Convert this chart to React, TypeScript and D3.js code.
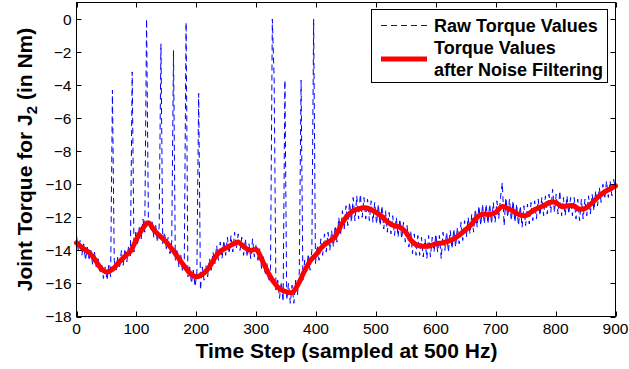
import React from 'react';
import * as d3 from 'd3';

const xTicks = [0, 100, 200, 300, 400, 500, 600, 700, 800, 900];
const yTicks = [-18, -16, -14, -12, -10, -8, -6, -4, -2, 0];

const rawStep = 3;
const rawValues = [
  -13.1, -14.0, -13.4, -14.3, -13.6, -14.6, -13.8, -14.5, -14.0, -14.9,
  -14.1, -15.0, -14.5, -15.4, -14.8, -15.7, -15.0, -15.8, -14.9, -15.6,
  -4.3, -14.6, -15.2, -14.4, -15.1, -14.0, -14.9, -13.9, -14.7, -13.7,
  -14.4, -3.2, -14.1, -12.9, -13.7, -12.5, -13.3, -12.1, -12.9, 0.0,
  -12.0, -12.8, -12.2, -13.2, -12.4, -13.5, -12.6, -1.5, -13.6, -12.9,
  -13.9, -13.2, -14.2, -13.5, -1.9, -14.6, -13.9, -15.0, -14.2, -15.3,
  -14.6, -0.2, -15.6, -15.0, -16.0, -15.2, -16.2, -15.3, -4.5, -16.4,
  -15.0, -15.8, -14.9, -15.6, -14.5, -15.2, -14.1, -14.8, -13.7, -14.6,
  -13.5, -14.5, -13.4, -14.3, -13.2, -14.2, -13.1, -14.1, -12.9, -13.9,
  -13.0, -14.0, -13.2, -14.3, -13.3, -14.4, -13.6, -14.5, -13.3, -14.4,
  -13.6, -14.6, -13.9, -15.1, -14.3, -15.5, -14.8, -15.9, -15.1, 0.0,
  -3.6, -16.4, -15.8, -16.9, -15.9, -17.1, -3.7, -17.0, -16.0, -17.2,
  -16.1, -17.2, -15.8, -16.7, -15.3, -3.7, -15.8, -14.6, -15.4, -14.2,
  -15.2, -14.0, 0.0, -14.8, -13.7, -14.6, -13.3, -14.3, -13.0, -14.1,
  -12.9, -14.0, -12.8, -13.8, -12.5, -13.5, -12.0, -13.1, -11.6, -12.7,
  -11.3, -12.5, -11.1, -12.3, -10.8, -12.2, -10.7, -12.1, -10.6, -12.0,
  -10.8, -12.1, -10.9, -12.2, -11.0, -12.3, -11.1, -12.4, -11.2, -12.5,
  -11.3, -12.7, -11.6, -12.9, -11.7, -13.0, -11.9, -13.1, -12.0, -13.2,
  -12.1, -13.3, -12.3, -13.5, -12.5, -13.8, -12.8, -14.2, -13.0, -14.3,
  -13.1, -14.3, -13.2, -14.4, -13.3, -14.5, -13.1, -14.4, -13.2, -14.1,
  -13.0, -14.1, -13.1, -14.5, -12.9, -14.0, -12.9, -14.1, -12.8, -13.9,
  -12.7, -13.8, -12.6, -13.6, -12.3, -13.4, -12.2, -13.2, -12.0, -13.0,
  -11.8, -12.9, -11.5, -12.6, -11.3, -12.5, -11.2, -12.4, -11.2, -12.4,
  -11.2, -12.4, -11.1, -12.3, -11.0, -12.1, -10.8, -9.9, -12.5, -10.8,
  -12.0, -10.9, -12.2, -11.0, -12.3, -11.2, -12.5, -11.3, -12.6, -11.3,
  -12.5, -11.2, -12.4, -11.1, -12.2, -11.0, -12.1, -10.9, -11.9, -10.8,
  -11.9, -10.7, -11.8, -10.6, -11.7, -10.3, -11.7, -10.6, -11.8, -10.4,
  -11.9, -10.8, -11.9, -10.7, -11.8, -10.8, -11.9, -10.8, -12.1, -10.9,
  -12.2, -10.9, -12.1, -10.9, -11.9, -10.7, -11.8, -10.6, -11.6, -10.4,
  -11.3, -10.2, -11.1, -10.0, -10.9, -9.8, -10.8, -9.8, -10.7, -9.7,
  -10.3,
];

const filteredStep = 10;
const filteredValues = [
  -13.55, -13.85, -14.1, -14.5, -15.05, -15.3, -15.15, -14.75, -14.4, -14.05,
  -13.35, -12.7, -12.33, -12.8, -13.15, -13.5, -13.95, -14.45, -14.95, -15.4,
  -15.6, -15.45, -15.1, -14.5, -14.05, -13.85, -13.65, -13.5, -13.8, -14.0,
  -13.95, -14.6, -15.35, -15.95, -16.35, -16.5, -16.55, -16.05, -15.3, -14.65,
  -14.25, -13.8, -13.5, -13.25, -12.6, -12.0, -11.65, -11.5, -11.42, -11.5,
  -11.7, -11.95, -12.3, -12.5, -12.6, -12.9, -13.45, -13.7, -13.75, -13.72,
  -13.6, -13.55, -13.45, -13.3, -13.05, -12.75, -12.4, -11.95, -11.8, -11.83,
  -11.7, -11.35, -11.45, -11.65, -11.85, -11.9, -11.65, -11.45, -11.3, -11.1,
  -11.1, -11.35, -11.3, -11.3, -11.5, -11.45, -11.15, -10.8, -10.5, -10.3,
  -10.1,
];

const rawLabel = 'Raw Torque Values';
const filteredLabelLines = ['Torque Values', 'after Noise Filtering'];
const xLabel = 'Time Step (sampled at 500 Hz)';

const FONT = '"Liberation Sans", Arial, Helvetica, sans-serif';

export default function App() {
  const W = 629;
  const H = 369;
  const x = d3.scaleLinear().domain([0, 900]).range([76.5, 615.5]);
  const y = d3.scaleLinear().domain([-18, 1]).range([316.5, 2.5]);

  const rawPts: [number, number][] = rawValues.map((v, i) => [i * rawStep, v]);
  const filtPts: [number, number][] = filteredValues.map((v, i) => [i * filteredStep, v]);

  const rawLine = d3.line<[number, number]>().x(d => x(d[0])).y(d => y(d[1]));
  const filtLine = d3
    .line<[number, number]>()
    .x(d => x(d[0]))
    .y(d => y(d[1]))
    .curve(d3.curveCatmullRom.alpha(0.5));

  const [x0, x1] = x.range();
  const [yb, yt] = y.range();
  const tickLen = 5;

  return (
    <svg width={W} height={H} style={{ position: 'absolute', left: 0, top: 0, background: '#fff' }}>
      <rect x={0} y={0} width={W} height={H} fill="#fff" />
      <path d={rawLine(rawPts) || ''} fill="none" stroke="#0000ff" strokeWidth={1} strokeDasharray="6,4" />
      <path d={filtLine(filtPts) || ''} fill="none" stroke="#ff0000" strokeWidth={5} strokeLinejoin="round" strokeLinecap="round" />

      <rect x={x0} y={yt} width={x1 - x0} height={yb - yt} fill="none" stroke="#000" strokeWidth={1} />

      {xTicks.map(t => (
        <g key={'x' + t}>
          <line x1={Math.round(x(t)) + 0.5} x2={Math.round(x(t)) + 0.5} y1={yb} y2={yb - tickLen} stroke="#000" />
          <line x1={Math.round(x(t)) + 0.5} x2={Math.round(x(t)) + 0.5} y1={yt} y2={yt + tickLen} stroke="#000" />
          <text x={x(t)} y={yb + 17.5} textAnchor="middle" fontFamily={FONT} fontSize={15.5} fill="#000">
            {t}
          </text>
        </g>
      ))}
      {yTicks.map(t => (
        <g key={'y' + t}>
          <line x1={x0} x2={x0 + tickLen} y1={Math.round(y(t)) + 0.5} y2={Math.round(y(t)) + 0.5} stroke="#000" />
          <line x1={x1} x2={x1 - tickLen} y1={Math.round(y(t)) + 0.5} y2={Math.round(y(t)) + 0.5} stroke="#000" />
          <text x={x0 - 5} y={y(t)} dy="0.36em" textAnchor="end" fontFamily={FONT} fontSize={15.5} fill="#000">
            {t < 0 ? '\u2212' + Math.abs(t) : String(t)}
          </text>
        </g>
      ))}

      <text x={346.5} y={358} textAnchor="middle" fontFamily={FONT} fontWeight="bold" fontSize={21} fill="#000">
        {xLabel}
      </text>
      <text
        transform={`translate(32,${(yb + yt) / 2}) rotate(-90)`}
        textAnchor="middle"
        fontFamily={FONT}
        fontWeight="bold"
        fontSize={21}
        fill="#000"
      >
        <tspan>Joint Torque for J</tspan>
        <tspan fontSize={15} dy={5}>2</tspan>
        <tspan dy={-5}> (in Nm)</tspan>
      </text>

      <rect x={371.5} y={9.5} width={236} height={73} fill="#fff" stroke="#000" strokeWidth={1} />
      <line x1={381} x2={427} y1={25.5} y2={25.5} stroke="#0000ff" strokeWidth={1} strokeDasharray="6,4" />
      <line x1={381} x2={427} y1={59} y2={59} stroke="#ff0000" strokeWidth={5} />
      <text x={434} y={32} fontFamily={FONT} fontWeight="bold" fontSize={18} fill="#000">{rawLabel}</text>
      {filteredLabelLines.map((l, i) => (
        <text key={l} x={434} y={54 + i * 22} fontFamily={FONT} fontWeight="bold" fontSize={18} fill="#000">{l}</text>
      ))}
    </svg>
  );
}
